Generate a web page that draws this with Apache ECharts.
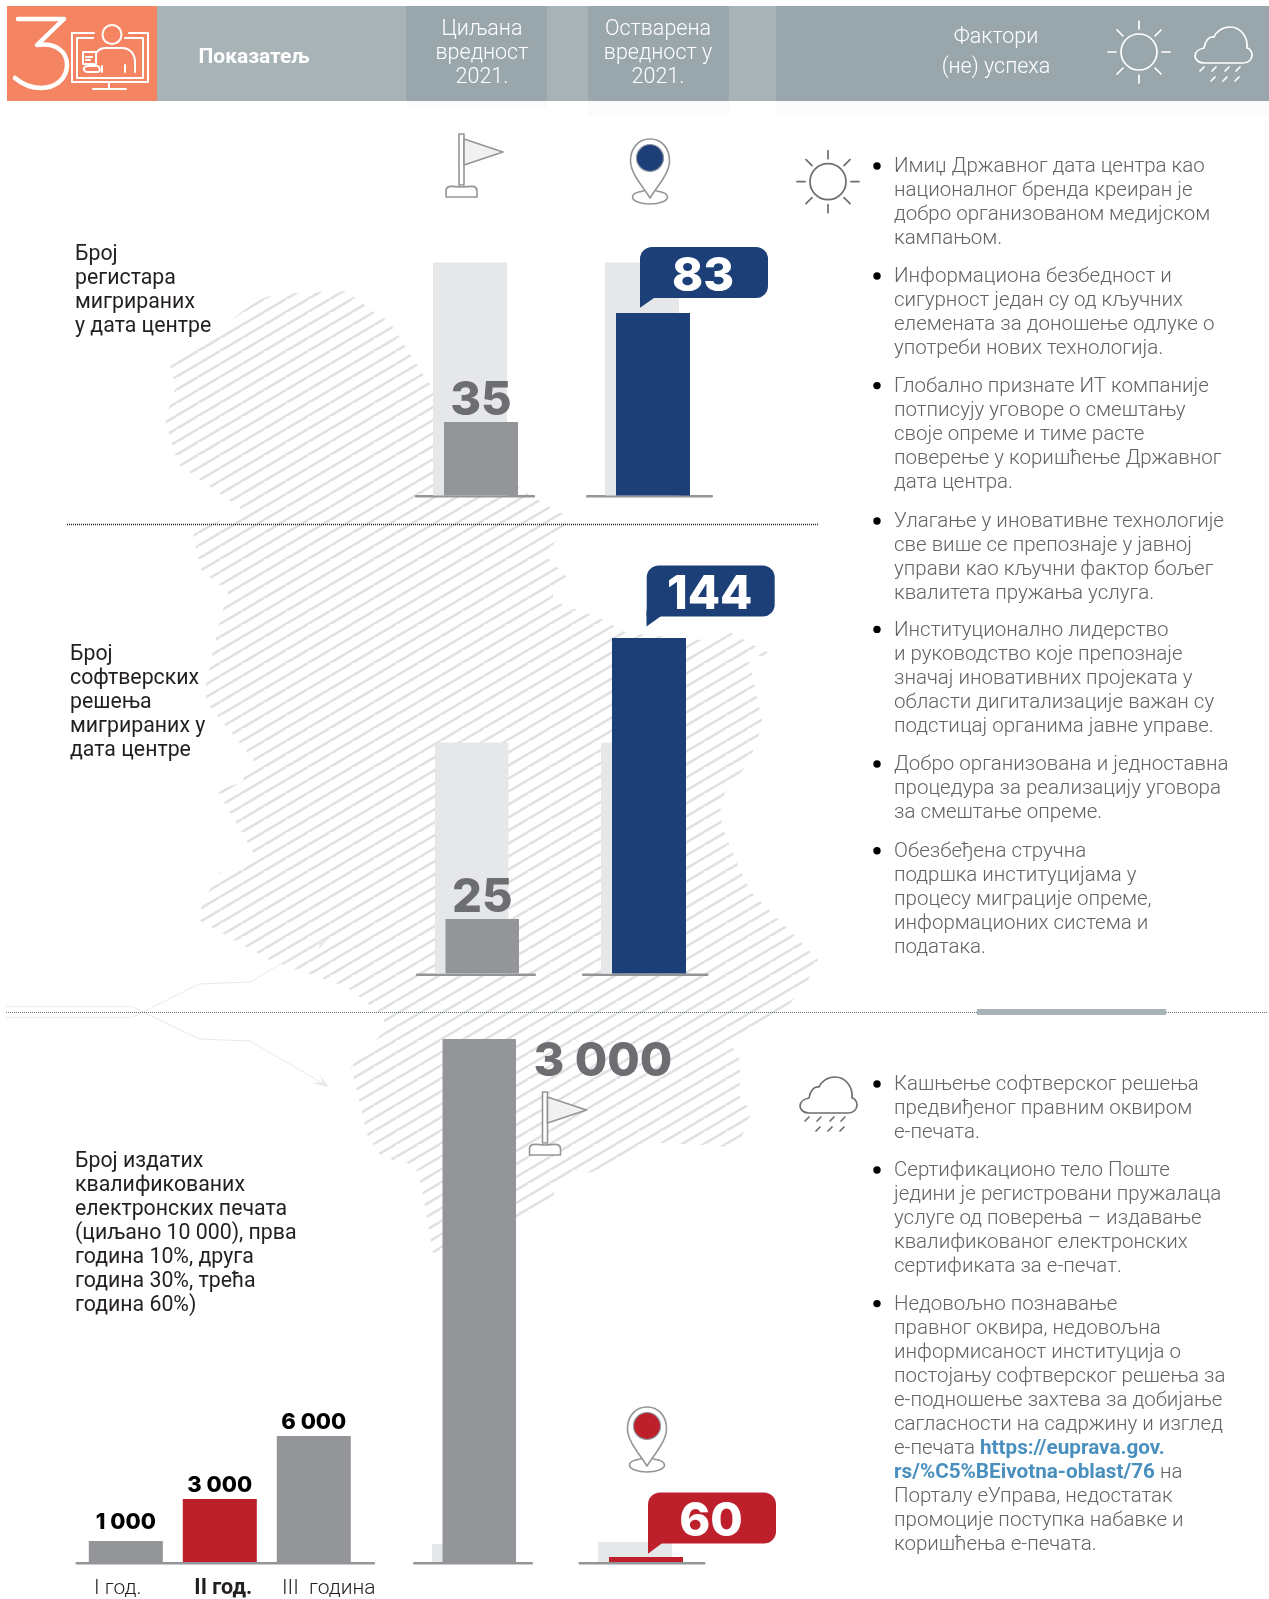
<!DOCTYPE html>
<html><head><meta charset="utf-8">
<style>html,body{margin:0;padding:0;background:#fff}#c{width:1269px;height:1599px}</style>
<script src="https://cdn.jsdelivr.net/npm/echarts@6/dist/echarts.min.js"></script>
</head><body><div id="c"></div>
<script>
/* ---------- data ---------- */
const targetValues = [35, 25, 3000];
const actualValues = [83, 144, 60];
const targetTrackValues = [111, 106, 103];
const actualTrackValues = [106, 99, 240];
const yearCategories = ['I год.', 'II год.', 'III  година'];
const yearValues = [1000, 3000, 6000];

const indicatorLabels = [
  ['Број', 'регистара', 'мигрираних', 'у дата центре'],
  ['Број', 'софтверских', 'решења', 'мигрираних у', 'дата центре'],
  ['Број издатих', 'квалификованих', 'електронских печата', '(циљано 10 000), прва', 'година 10%, друга', 'година 30%, трећа', 'година 60%)']
];
const successFactors = [
  ['Имиџ Државног дата центра као', 'националног бренда креиран је', 'добро организованом медијском', 'кампањом.'],
  ['Информациона безбедност и', 'сигурност један су од кључних', 'елемената за доношење одлуке о', 'употреби нових технологија.'],
  ['Глобално признате ИТ компаније', 'потписују уговоре о смештању', 'своје опреме и тиме расте', 'поверење у коришћење Државног', 'дата центра.'],
  ['Улагање у иновативне технологије', 'све више се препознаје у јавној', 'управи као кључни фактор бољег', 'квалитета пружања услуга.'],
  ['Институционално лидерство', 'и руководство које препознаје', 'значај иновативних пројеката у', 'области дигитализације важан су', 'подстицај органима јавне управе.'],
  ['Добро организована и једноставна', 'процедура за реализацију уговора', 'за смештање опреме.'],
  ['Обезбеђена стручна', 'подршка институцијама у', 'процесу миграције опреме,', 'информационих система и', 'података.']
];
const failureFactors = [
  ['Кашњење софтверског решења', 'предвиђеног правним оквиром', 'е-печата.'],
  ['Сертификационо тело Поште', 'једини је регистровани пружалаца', 'услуге од поверења – издавање', 'квалификованог електронских', 'сертификата за е-печат.'],
  ['Недовољно познавање', 'правног оквира, недовољна', 'информисаност институција о', 'постојању софтверског решења за', 'е-подношење захтева за добијање', 'сагласности на садржину и изглед', 'е-печата {link|https://euprava.gov.}', '{link|rs/%C5%BEivotna-oblast/76} на', 'Порталу еУправа, недостатак', 'промоције поступка набавке и', 'коришћења е-печата.']
];

/* ---------- layout / style ---------- */
const FONT = 'Roboto';
const NUM = 'Inter';
const BLUE = '#1d3f77', RED = '#be202b', GRAY = '#939598', TRACK = '#e6e7e8', DIGIT = '#6d6e71';
const successStarts = [167, 277, 386.6, 522, 630.4, 765, 851.7];
const failureStarts = [1085, 1171, 1304.6];
const labelPos = [[75, 255], [70, 655], [75, 1162]];
const columns = [
  {src: 0, kind: 't', left: 433, right: 518, base: 495.5, h: 233, ppu: 2.1},
  {src: 0, kind: 'a', left: 605, right: 690, base: 495.5, h: 233, ppu: 2.2, color: BLUE, off: [88, -66]},
  {src: 1, kind: 't', left: 435, right: 519, base: 973.5, h: 232, ppu: 2.18},
  {src: 1, kind: 'a', left: 601, right: 686, base: 973.5, h: 336, ppu: 2.33, color: BLUE, off: [98.7, -72.5]},
  {src: 2, kind: 't', left: 432, right: 516, base: 1562, h: 524, ppu: 0.1743, side: [91, 23]},
  {src: 2, kind: 'a', left: 598, right: 683, base: 1562, h: 21, ppu: 0.0833, color: RED, off: [103, -64.5]}
];
const MAP = [[258,300],[276,294],[345,291],[390,323],[425,377],[455,420],[520,488],[543,503],[565,515],[566,528],[545,555],[568,578],[553,588],[553,601],[597,617],[627,633],[700,640],[731,633],[774,656],[748,656],[763,725],[755,744],[750,762],[729,785],[720,803],[722,826],[731,849],[750,891],[800,941],[818,960],[806,984],[785,1010],[780,1015],[760,1027],[730,1043],[740,1060],[740,1100],[752,1110],[747,1127],[735,1147],[648,1142],[613,1163],[598,1172],[572,1173],[558,1182],[552,1199],[516,1225],[516,1258],[440,1258],[433,1253],[423,1195],[418,1172],[408,1163],[393,1160],[380,1155],[368,1137],[359,1100],[351,1067],[388,1027],[378,1012],[347,987],[270,960],[199,920],[202,904],[219,872],[243,870],[254,854],[217,790],[241,783],[254,760],[206,702],[206,684],[219,624],[228,592],[200,569],[193,532],[224,519],[243,510],[178,464],[165,420],[176,385],[170,365]];

/* ---------- custom icon shapes ---------- */
function reg(name, d) { echarts.graphic.registerShape(name, echarts.graphic.extendPath(d, {})); }
reg('ico3', 'M18 19 H64 L37 45 C56 42 67 52 67 65 C67 79 55 88 41 88 C31 88 22 84 15 78');
reg('icoMon', 'M94 33 H72 V82 H148 V33 H129 M93 38 H77 V78 H143 V38 H125 M109 82 V89 M93 89 H126 M97 52 C99 49 103 48 106 48 H122 C130 48 135 54 135 62 V72 M125 65 V72 M102 66 V72 M83 52 H96 V64 H83 Z M86 57 H92 M86 60 H90 M88 66 C82 66 83 72 88 72 H98 C101 72 100 66 97 66 Z');
reg('icoCloud', 'M9 37 H48 C54 37 57 33 57 29 C57 25 54 22 52 22 C53 10 45 1 35 1 C27 1 21 6 19 11 C14 10 10 15 9 22 C4 23 0 26 0 30 C0 34 4 37 9 37 Z M5 45 L9 41 M17 45 L21 41 M30 45 L34 41 M41 45 L45 41 M16 55 L20 51 M28 55 L32 51 M40 55 L44 51');
reg('icoSun', 'M18 0 A18 18 0 1 1 -18 0 A18 18 0 1 1 18 0 Z M0 -31 V-23 M0 23 V31 M-31 0 H-23 M23 0 H31 M-22 -22 L-16 -16 M16 16 L22 22 M-22 22 L-16 16 M16 -16 L22 -22');
reg('icoFlagPole', 'M13 0 H18 V51 H13 Z M0 63 V57 C0 50 8 53 15.500 53 C23 53 31 50 31 57 V63 Z');
reg('icoFlag', 'M18 5 L57 18 L18 31 Z');
reg('icoPin', 'M19.500 0 C8 0 0 9 0 22 C0 34 12 47 19.500 59 C27 47 39 34 39 22 C39 9 31 0 19.500 0 Z M13 52 C6 53 2 55 2 58 C2 62 10 65 19.500 65 C29 65 37 62 37 58 C37 55 33 53 26 52');

/* ---------- stripes ---------- */
const tile = document.createElement('canvas');
tile.width = 22; tile.height = 13;
const tc = tile.getContext('2d');
tc.strokeStyle = '#e0e1e2'; tc.lineWidth = 2.6;
[[-22, 13], [0, 13], [22, 13], [-22, 26], [0, 26]].forEach(([x, y]) => {
  tc.beginPath(); tc.moveTo(x, y); tc.lineTo(x + 22, y - 13); tc.stroke();
});

/* ---------- graphic elements ---------- */
const g = [];
const txt = (text, x, y, o = {}) => g.push({type: 'text', x, y, z: o.z === undefined ? 20 : o.z, silent: true, style: Object.assign({
  text, fontFamily: FONT, fontSize: 20.5, fontWeight: 300, fill: '#626365', align: 'left', verticalAlign: 'middle', textAlign: 'left', textVerticalAlign: 'middle'
}, o.style || {})});
const rect = (x, y, w, h, fill, z = 0) => g.push({type: 'rect', z, silent: true, shape: {x, y, width: w, height: h}, style: {fill}});
const ico = (type, x, y, stroke, width, fill = 'none', z = 20) => g.push({type, x, y, z, silent: true, style: {stroke, lineWidth: width, fill, lineCap: 'round', lineJoin: 'round'}});

// header
rect(7, 6, 1262, 95, '#a7b3b7');
rect(406, 6, 141, 95, '#99a6ab');
rect(588, 6, 141, 95, '#99a6ab');
rect(776, 6, 493, 95, '#99a6ab');
rect(406, 101, 141, 6, '#fbfbfb');
rect(588, 101, 141, 14, '#fbfbfb');
rect(776, 101, 493, 14, '#fbfbfb');
rect(7, 6, 150, 95, '#f58562', 1);
ico('ico3', 0, 0, '#fff', 4.5, 'none');
ico('icoMon', 0, 0, '#fff', 2);
g.push({type: 'circle', z: 20, silent: true, shape: {cx: 112, cy: 34.5, r: 9.5}, style: {fill: '#f58562', stroke: '#fff', lineWidth: 2}});
const hs = {fill: '#fff', align: 'center', textAlign: 'center', fontSize: 21.5};
txt('Показатељ', 254, 58, {style: {fill: '#fff', fontWeight: 700, fontSize: 21, align: 'center', textAlign: 'center'}});
['Циљана', 'вредност', '2021.'].forEach((t, i) => txt(t, 482, 30 + i * 24, {style: hs}));
['Остварена', 'вредност у', '2021.'].forEach((t, i) => txt(t, 658, 30 + i * 24, {style: hs}));
txt('Фактори', 996, 37.5, {style: hs});
txt('(не) успеха', 996, 67.5, {style: hs});
ico('icoSun', 1139, 52, '#fff', 1.7);
ico('icoCloud', 1195, 26, '#fff', 1.7);

// map + arrows
g.push({type: 'polygon', z: 0, silent: true, shape: {points: MAP}, style: {fill: {image: tile, repeat: 'repeat'}}});
const wire = (pts) => g.push({type: 'polyline', z: 0, silent: true, shape: {points: pts}, style: {stroke: '#e9eaea', lineWidth: 1, fill: 'none'}});
wire([[6, 1006.7], [132, 1006.7], [143, 1012], [199, 984], [250, 982], [320, 941]]);
wire([[6, 1017.3], [132, 1017.3], [143, 1012], [199, 1039], [250, 1041], [322, 1083]]);
g.push({type: 'polygon', z: 0, silent: true, shape: {points: [[329, 938], [313, 944], [320, 945], [318, 950]]}, style: {fill: '#e9eaea'}});
g.push({type: 'polygon', z: 0, silent: true, shape: {points: [[329, 1087], [320, 1075], [322, 1082], [312, 1083]]}, style: {fill: '#e9eaea'}});

// separators
g.push({type: 'line', z: 1, silent: true, shape: {x1: 67, y1: 524.5, x2: 818, y2: 524.5}, style: {stroke: '#231f20', lineWidth: 1.5, lineDash: [1, 1]}});
g.push({type: 'line', z: 1, silent: true, shape: {x1: 6, y1: 1012.5, x2: 1267, y2: 1012.5}, style: {stroke: '#5d7080', lineWidth: 1.2, lineDash: [1, 1]}});
rect(977, 1009, 189, 6, '#a7b3b7', 2);

// base lines
[[415, 120, 495], [586, 127, 495], [416, 120, 973.5], [582, 126.500, 973.5], [413, 120, 1562], [578.5, 127, 1562], [75.5, 299.5, 1562]].forEach(([x, w, y]) =>
  g.push({type: 'rect', z: 1, silent: true, shape: {x, y, width: w, height: 2.6, r: 1}, style: {fill: GRAY}}));

// icons
const flag = (x, y) => { ico('icoFlagPole', x, y, GRAY, 1.6, '#fff'); ico('icoFlag', x, y, GRAY, 1.6, '#f1f1f2'); };
const pin = (x, y, c) => {
  ico('icoPin', x, y, GRAY, 1.6, '#fff');
  g.push({type: 'circle', z: 21, silent: true, shape: {cx: x + 19.5, cy: y + 19, r: 13.5}, style: {fill: c, stroke: '#8f97a3', lineWidth: 1.2}});
};
flag(446, 134); flag(529.5, 1092);
pin(630.5, 139, BLUE); pin(627.5, 1407, RED);
ico('icoSun', 828, 181.7, DIGIT, 1.7);
ico('icoCloud', 800, 1076, DIGIT, 1.7);

// bubble tails
[[640, 298, 307.7, BLUE], [646.5, 616.5, 626.6, BLUE], [648, 1543.3, 1553.7, RED]].forEach(([x, y, tip, c]) =>
  g.push({type: 'polygon', z: 100, silent: true, shape: {points: [[x, y - 6], [x, tip], [x + 14, y], [x + 14, y - 6]]}, style: {fill: c}}));

// indicator labels
indicatorLabels.forEach((lines, k) => lines.forEach((t, i) =>
  txt(t, labelPos[k][0], labelPos[k][1] + i * 24, {style: {fill: '#231f20', fontWeight: 400, fontSize: 21.3}})));

// factors
const paragraphs = (paras, starts) => paras.forEach((lines, k) => {
  g.push({type: 'circle', z: 20, silent: true, shape: {cx: 877, cy: starts[k] - 1, r: 3.7}, style: {fill: '#000'}});
  lines.forEach((t, i) => txt(t, 894, starts[k] + i * 24, {style: {rich: {link: {fontFamily: FONT, fontSize: 20.7, fontWeight: 700, fill: '#4a90bf'}}}}));
});
paragraphs(successFactors, successStarts);
paragraphs(failureFactors, failureStarts);

const groupFmt = v => String(v).replace(/\B(?=(\d{3})+$)/g, ' ');

/* ---------- grids, axes, series ---------- */
const grids = [], xAxes = [], yAxes = [], series = [];
columns.forEach((c, i) => {
  const value = c.kind === 't' ? targetValues[c.src] : actualValues[c.src];
  const track = c.kind === 't' ? targetTrackValues[c.src] : actualTrackValues[c.src];
  grids.push({left: c.left, width: c.right - c.left, top: c.base - c.h, height: c.h, outerBoundsMode: 'none'});
  xAxes.push({type: 'category', gridIndex: i, data: ['v'], show: false});
  yAxes.push({type: 'value', gridIndex: i, min: 0, max: c.h / c.ppu, show: false});
  const common = {type: 'bar', xAxisIndex: i, yAxisIndex: i, barWidth: 74, barGap: '-85.14%', silent: true, animation: false};
  series.push(Object.assign({}, common, {name: 'track' + i, data: [track], itemStyle: {color: TRACK}}));
  let label;
  if (c.kind === 't' && !c.side) {
    label = {show: true, position: 'top', distance: -2, fontFamily: NUM, fontWeight: 800, fontSize: 47, color: DIGIT, formatter: p => groupFmt(p.value)};
  } else if (c.kind === 't') {
    label = {show: true, position: c.side, align: 'left', verticalAlign: 'middle', fontFamily: NUM, fontWeight: 800, fontSize: 47, color: DIGIT, formatter: p => groupFmt(p.value)};
  } else {
    label = {show: true, position: c.off, align: 'center', verticalAlign: 'top', width: 126, height: 43, lineHeight: 43, padding: [8, 2, 0, 0],
      backgroundColor: c.color, borderRadius: [12, 12, 12, 0], fontFamily: NUM, fontWeight: 800, fontSize: 47, color: '#fff', formatter: p => groupFmt(p.value)};
  }
  series.push(Object.assign({}, common, {name: 'value' + i, data: [value], z: 3, label, itemStyle: {color: c.color || GRAY}}));
});
const yi = columns.length;
grids.push({left: 78.8, width: 282, top: 1400, height: 162, outerBoundsMode: 'none'});
xAxes.push({type: 'category', gridIndex: yi, data: yearCategories, axisLine: {show: false}, axisTick: {show: false},
  axisLabel: {margin: 16, formatter: (v, i) => ['{a|' + v + '}', '{b|' + v + '}', '{c|' + v + '}'][i],
    rich: {
      a: {fontFamily: FONT, fontSize: 21, fontWeight: 300, color: '#231f20', padding: [0, 16, 0, 0]},
      b: {fontFamily: FONT, fontSize: 21.5, fontWeight: 700, color: '#231f20', padding: [0, 0, 0, 7]},
      c: {fontFamily: FONT, fontSize: 21, fontWeight: 300, color: '#231f20', padding: [0, 0, 0, 30]}
    }}});
yAxes.push({type: 'value', gridIndex: yi, min: 0, max: 7714, show: false});
const yearDistance = [8, 3, 3];
series.push({type: 'bar', xAxisIndex: yi, yAxisIndex: yi, barWidth: 74, silent: true, animation: false, z: 3,
  data: yearValues.map((v, i) => ({value: v, itemStyle: {color: i === 1 ? RED : GRAY}, label: {distance: yearDistance[i]}})),
  label: {show: true, position: 'top', fontFamily: NUM, fontWeight: 800, fontSize: 22, color: '#000', formatter: p => groupFmt(p.value)}});

const chart = echarts.init(document.getElementById('c'), null, {renderer: 'canvas'});
chart.setOption({animation: false, backgroundColor: '#fff', grid: grids, xAxis: xAxes, yAxis: yAxes, series, graphic: {elements: g}});
</script></body></html>
